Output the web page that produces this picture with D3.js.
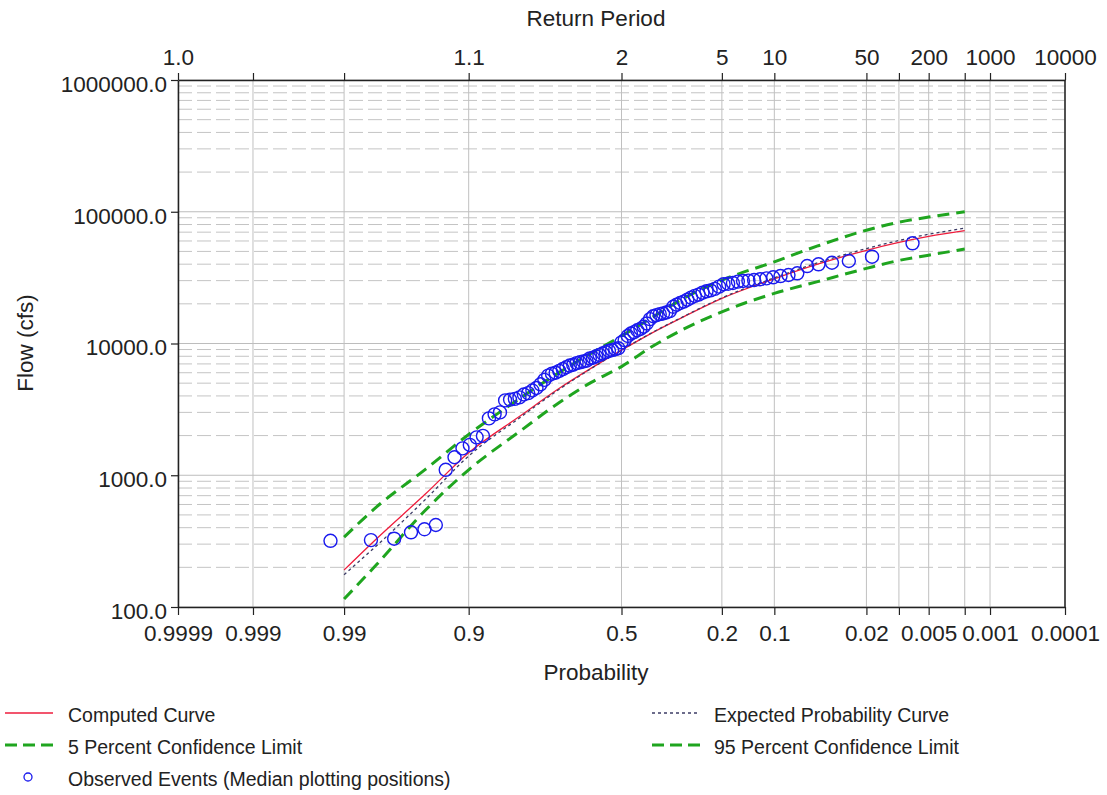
<!DOCTYPE html>
<html><head><meta charset="utf-8">
<script src="https://cdn.jsdelivr.net/npm/d3@7"></script>
<style>
html,body{margin:0;padding:0;background:#fff;}
svg text{font-family:"Liberation Sans",Arial,sans-serif;fill:#222;}
</style></head>
<body><svg id="chart" width="1107" height="795"></svg>
<script>
// ---- data ----
const gridProb = [0.9999, 0.999, 0.99, 0.9, 0.5, 0.2, 0.1, 0.02, 0.01, 0.005, 0.002, 0.001, 0.0001];
const bottomLabels = ["0.9999", "0.999", "0.99", "0.9", "0.5", "0.2", "0.1", "0.02", "", "0.005", "", "0.001", "0.0001"];
const topLabels = ["1.0", "", "", "1.1", "2", "5", "10", "50", "", "200", "", "1000", "10000"];
const flowTicks = [100, 1000, 10000, 100000, 1000000];
const flowTickLabels = ["100.0", "1000.0", "10000.0", "100000.0", "1000000.0"];

const curveProb = [0.99, 0.98, 0.95, 0.9, 0.8, 0.7, 0.6, 0.5, 0.4, 0.3, 0.2, 0.1, 0.05, 0.02, 0.01, 0.005, 0.002];
const computedFlow = [191, 330, 720, 1480, 2850, 4550, 6500, 8900, 12000, 16000, 22000, 31000, 40000, 51000, 58500, 65000, 71800];
const expectedFlow = [176, 292, 655, 1400, 2780, 4480, 6460, 8900, 12050, 16100, 22200, 31500, 41000, 52500, 60500, 67500, 75000];
const conf5Flow = [339, 575, 1107, 2040, 3890, 6010, 8450, 11400, 15700, 22100, 30200, 41700, 55000, 72400, 83200, 91200, 100000];
const conf95Flow = [115, 210, 542, 1100, 2190, 3550, 5070, 6680, 9440, 12900, 17400, 24000, 29500, 37150, 42700, 46800, 52100];

// observed annual peaks, ranked largest to smallest
const observedFlow = [57600, 45600, 42300, 41000, 39900, 38700, 34100, 33100, 32500, 31800,
  31200, 30700, 30300, 30000, 29800, 29500, 28800, 28400, 28200, 27000,
  26000, 25300, 24900, 24300, 23500, 23000, 22300, 21500, 20800, 20300,
  19700, 19000, 17600, 17200, 16900, 16700, 16400, 16100, 15300, 14200,
  13400, 12900, 12600, 12200, 11900, 11400, 10600, 10200, 9200, 9050,
  8900, 8800, 8600, 8400, 8200, 8000, 7800, 7700, 7400, 7300,
  7200, 7100, 6900, 6800, 6600, 6400, 6200, 6000, 5900, 5700,
  5300, 4900, 4600, 4400, 4200, 4100, 3900, 3800, 3750, 3700,
  3000, 2900, 2700, 1990, 1940, 1700, 1600, 1370, 1100, 419,
  389, 369, 330, 322, 318];

const legendItems = [
  {label: "Computed Curve", type: "computed", col: 0, row: 0},
  {label: "Expected Probability Curve", type: "expected", col: 1, row: 0},
  {label: "5 Percent Confidence Limit", type: "conf", col: 0, row: 1},
  {label: "95 Percent Confidence Limit", type: "conf", col: 1, row: 1},
  {label: "Observed Events (Median plotting positions)", type: "obs", col: 0, row: 2}
];

// ---- helpers ----
// inverse standard normal CDF (Acklam)
function probit(p) {
  const a = [-3.969683028665376e+01, 2.209460984245205e+02, -2.759285104469687e+02, 1.383577518672690e+02, -3.066479806614716e+01, 2.506628277459239e+00];
  const b = [-5.447609879822406e+01, 1.615858368580409e+02, -1.556989798598866e+02, 6.680131188771972e+01, -1.328068155288572e+01];
  const c = [-7.784894002430293e-03, -3.223964580411365e-01, -2.400758277161838e+00, -2.549732539343734e+00, 4.374664141464968e+00, 2.938163982698783e+00];
  const d = [7.784695709041462e-03, 3.224671290700398e-01, 2.445134137142996e+00, 3.754408661907416e+00];
  const pl = 0.02425;
  let q, r;
  if (p < pl) {
    q = Math.sqrt(-2 * Math.log(p));
    return (((((c[0]*q+c[1])*q+c[2])*q+c[3])*q+c[4])*q+c[5]) / ((((d[0]*q+d[1])*q+d[2])*q+d[3])*q+1);
  } else if (p <= 1 - pl) {
    q = p - 0.5; r = q * q;
    return (((((a[0]*r+a[1])*r+a[2])*r+a[3])*r+a[4])*r+a[5])*q / (((((b[0]*r+b[1])*r+b[2])*r+b[3])*r+b[4])*r+1);
  } else {
    q = Math.sqrt(-2 * Math.log(1 - p));
    return -(((((c[0]*q+c[1])*q+c[2])*q+c[3])*q+c[4])*q+c[5]) / ((((d[0]*q+d[1])*q+d[2])*q+d[3])*q+1);
  }
}
// exceedance probability -> standard normal variate (increasing to the right)
const zOf = p => -probit(p);

// ---- layout ----
const svg = d3.select("#chart");
const L = 178, R = 1065, T = 80, B = 607;

const zScale = d3.scaleLinear().domain([zOf(0.9999), zOf(0.0001)]).range([L, R]);
const x = p => zScale(zOf(p));
const y = d3.scaleLog().domain([100, 1000000]).range([B, T]);

// grid: horizontal minor (dashed) and major (solid)
const g = svg.append("g");
const minor = [];
for (let dec = 100; dec < 1000000; dec *= 10) for (let k = 2; k <= 9; k++) minor.push(dec * k);
g.selectAll("line.minor").data(minor).enter().append("line")
  .attr("x1", L).attr("x2", R).attr("y1", d => y(d)).attr("y2", d => y(d))
  .attr("stroke", "#c4c4c4").attr("stroke-width", 1).attr("stroke-dasharray", "14,5");
g.selectAll("line.major").data(flowTicks).enter().append("line")
  .attr("x1", L).attr("x2", R).attr("y1", d => y(d)).attr("y2", d => y(d))
  .attr("stroke", "#bdbdbd").attr("stroke-width", 1);
// vertical grid
g.selectAll("line.vgrid").data(gridProb).enter().append("line")
  .attr("x1", d => x(d)).attr("x2", d => x(d)).attr("y1", T).attr("y2", B)
  .attr("stroke", "#c0c0c0").attr("stroke-width", 1);

// axes
const bottomAxis = d3.axisBottom(zScale).tickValues(gridProb.map(zOf))
  .tickFormat((d, i) => bottomLabels[i]).tickSize(8).tickSizeOuter(0).tickPadding(10);
const topAxis = d3.axisTop(zScale).tickValues(gridProb.map(zOf))
  .tickFormat((d, i) => topLabels[i]).tickSize(7).tickSizeOuter(0).tickPadding(8);
const leftAxis = d3.axisLeft(y).tickValues(flowTicks)
  .tickFormat((d, i) => flowTickLabels[i]).tickSize(7).tickSizeOuter(0).tickPadding(4);

function styleAxis(sel) {
  sel.select(".domain").attr("stroke", "#222").attr("stroke-width", 1.5);
  sel.selectAll(".tick line").attr("stroke", "#222").attr("stroke-width", 1.2);
  sel.selectAll(".tick text").attr("font-size", 22.5).attr("fill", "#222")
    .style("font-family", "'Liberation Sans', Arial, sans-serif");
}
const ax1 = svg.append("g").attr("transform", `translate(0,${B})`).call(bottomAxis); styleAxis(ax1);
const ax2 = svg.append("g").attr("transform", `translate(0,${T})`).call(topAxis); styleAxis(ax2);
const ax3 = svg.append("g").attr("transform", `translate(${L},0)`).call(leftAxis); styleAxis(ax3);
ax3.selectAll(".tick text").attr("dy", "0.5em");
// right frame
svg.append("line").attr("x1", R).attr("x2", R).attr("y1", T).attr("y2", B).attr("stroke", "#222").attr("stroke-width", 1.5);

// titles
svg.append("text").attr("x", 596).attr("y", 26).attr("text-anchor", "middle").attr("font-size", 22.5).text("Return Period");
svg.append("text").attr("x", 596).attr("y", 680).attr("text-anchor", "middle").attr("font-size", 22.5).text("Probability");
svg.append("text").attr("transform", "translate(33,343) rotate(-90)").attr("text-anchor", "middle").attr("font-size", 22.5).text("Flow (cfs)");

// curves
const line = arr => d3.line().x((d, i) => x(curveProb[i])).y(d => y(d)).curve(d3.curveMonotoneX)(arr);
const plot = svg.append("g");
plot.append("path").attr("d", line(conf5Flow)).attr("fill", "none").attr("stroke", "#1fa51f").attr("stroke-width", 3).attr("stroke-dasharray", "12,7");
plot.append("path").attr("d", line(conf95Flow)).attr("fill", "none").attr("stroke", "#1fa51f").attr("stroke-width", 3).attr("stroke-dasharray", "12,7");
plot.append("path").attr("d", line(computedFlow)).attr("fill", "none").attr("stroke", "#ee1c3c").attr("stroke-width", 1.3);
plot.append("path").attr("d", line(expectedFlow)).attr("fill", "none").attr("stroke", "#3c3c66").attr("stroke-width", 1.3).attr("stroke-dasharray", "3,3");

// observed events at median plotting positions
const n = observedFlow.length;
plot.selectAll("circle.obs").data(observedFlow).enter().append("circle")
  .attr("cx", (d, i) => x((i + 1 - 0.3) / (n + 0.4)))
  .attr("cy", d => y(d)).attr("r", 6.5)
  .attr("fill", "none").attr("stroke", "#1a1aee").attr("stroke-width", 1.4);

// legend
const lg = svg.append("g");
const colX = [5, 652], rowY = [713, 745, 777];
legendItems.forEach(it => {
  const x0 = colX[it.col], yy = rowY[it.row];
  if (it.type === "computed") lg.append("line").attr("x1", x0).attr("x2", x0 + 48).attr("y1", yy).attr("y2", yy).attr("stroke", "#ee1c3c").attr("stroke-width", 1.3);
  if (it.type === "expected") lg.append("line").attr("x1", x0).attr("x2", x0 + 46).attr("y1", yy).attr("y2", yy).attr("stroke", "#3c3c66").attr("stroke-width", 1.3).attr("stroke-dasharray", "3,3");
  if (it.type === "conf") lg.append("line").attr("x1", x0).attr("x2", x0 + 48).attr("y1", yy).attr("y2", yy).attr("stroke", "#1fa51f").attr("stroke-width", 3).attr("stroke-dasharray", "12,6");
  if (it.type === "obs") lg.append("circle").attr("cx", x0 + 23).attr("cy", yy).attr("r", 4).attr("fill", "none").attr("stroke", "#1a1aee").attr("stroke-width", 1.3);
  lg.append("text").attr("x", x0 + (it.col === 0 ? 63 : 62)).attr("y", yy + 9).attr("font-size", 19.5).text(it.label);
});
</script></body></html>
